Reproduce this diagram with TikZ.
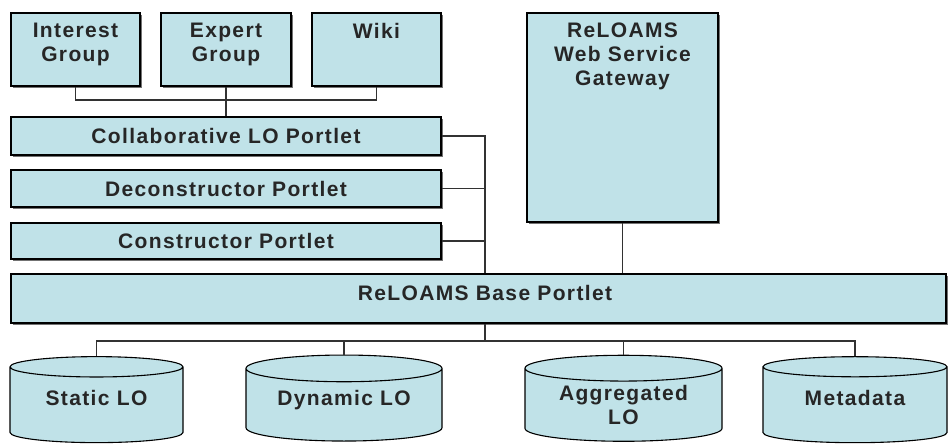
\documentclass[tikz,border=0pt]{standalone}
\usepackage{fontspec}
\setmainfont{Liberation Sans}
\usetikzlibrary{shapes.geometric, shadows}
\definecolor{boxblue}{RGB}{192,226,232}
\definecolor{linegray}{RGB}{50,50,50}
\newcommand{\boxfont}{\bfseries\fontsize{21}{24}\selectfont\addfontfeatures{LetterSpace=6.5}}
\tikzset{
    box/.style={draw=black, line width=1.1pt, fill=boxblue,
        drop shadow={shadow xshift=2pt, shadow yshift=-2pt, fill=black!55, opacity=1},
        inner sep=0pt, font=\boxfont, text=black!85, align=center},
    boxtext/.style={inner sep=0pt, font=\boxfont, text=black!85, align=center, anchor=north},
    store/.style={cylinder, shape border rotate=90, aspect=0.2, draw=black, line width=1.1pt,
        fill=boxblue, inner sep=0pt, font=\boxfont, text=black!85, align=center},
    oneline/.style={text depth=15pt},
    wire/.style={draw=linegray, line width=1.1pt}
}
\begin{document}
\begin{tikzpicture}[x=1pt, y=-1pt]
    \useasboundingbox (0,0) rectangle (948,446);
    % top boxes
    \node[box, minimum width=129, minimum height=73] (ig) at (75.5,49.5) {};
    \node[boxtext] (igt) at (75.5,23) {Interest\\Group};
    \node[box, minimum width=130, minimum height=73] (eg) at (226,49.5) {};
    \node[boxtext] (egt) at (226,23) {Expert\\Group};
    \node[box, minimum width=129, minimum height=73] (wk) at (376.5,49.5) {};
    \node[boxtext] (wkt) at (376.5,23) {Wiki};
    % gateway
    \node[box, minimum width=191, minimum height=209] (gw) at (622.5,117.5) {};
    \node[boxtext] (gwt) at (622.5,23) {ReLOAMS\\Web Service\\Gateway};
    % portlets
    \node[box, minimum width=430, minimum height=38] (clp) at (226,136) {Collaborative LO Portlet};
    \node[box, minimum width=430, minimum height=37] (dcp) at (226,188.5) {Deconstructor Portlet};
    \node[box, minimum width=430, minimum height=36] (cp) at (226,241) {Constructor Portlet};
    \node[box, minimum width=935, minimum height=49] (base) at (478.5,298.5) {};
    \node[boxtext] (baset) at (485,285) {ReLOAMS Base Portlet};
    % stores
    \node[store, oneline, minimum width=173, minimum height=86] (sl) at (96.5,405) {Static LO};
    \node[store, oneline, minimum width=196, minimum height=86] (dl) at (344,405) {Dynamic LO};
    \node[store, minimum width=197, minimum height=86] (al) at (623.5,405) {Aggregated\\LO};
    \node[store, oneline, minimum width=184, minimum height=86] (md) at (855,405) {Metadata};
    % wires
    \coordinate (tj) at (226,100);
    \coordinate (rb) at (485,136);
    \coordinate (lb) at (485,341);
    \draw[wire] (ig.south) |- (tj) -| (wk.south);
    \draw[wire] (eg.south) -- (clp.north);
    \draw[wire] (clp.east) -- (rb) -- (rb |- base.north);
    \draw[wire] (dcp.east) -- (rb |- dcp.east);
    \draw[wire] (cp.east) -- (rb |- cp.east);
    \draw[wire] (gw.south) -- (gw.south |- base.north);
    \draw[wire] (lb |- base.south) -- (lb);
    \draw[wire] (sl.north) |- (lb) -| (md.north);
    \draw[wire] (dl.north) -- (dl.north |- lb);
    \draw[wire] (al.north) -- (al.north |- lb);
\end{tikzpicture}
\end{document}
